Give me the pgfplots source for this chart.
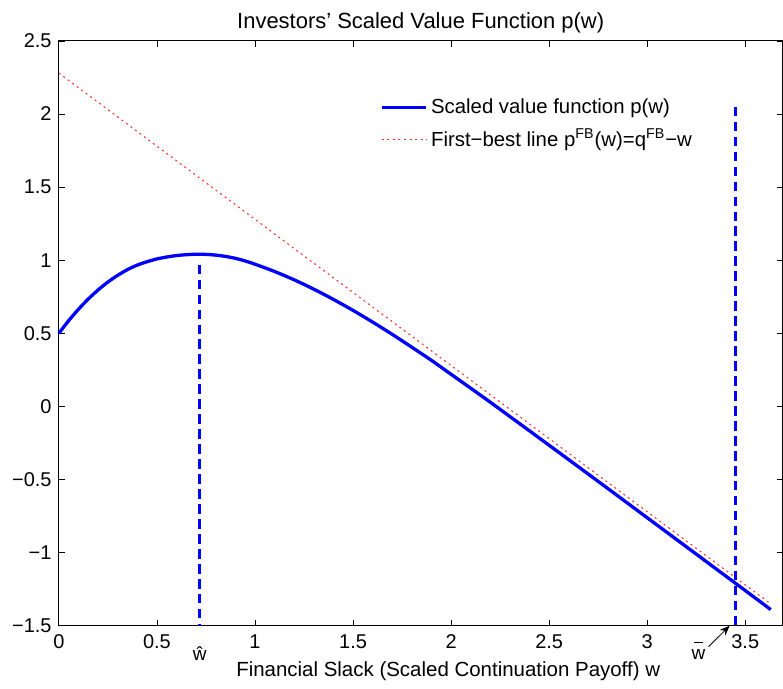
\documentclass[border=0pt]{standalone}
\usepackage{fontspec}
\setmainfont{Liberation Sans}
\usepackage{pgfplots}
\pgfplotsset{compat=1.18}
\usetikzlibrary{arrows.meta}
\begin{document}
\begin{tikzpicture}
\begin{axis}[
  scale only axis, width=362.5pt, height=293pt,
  xmin=0, xmax=3.69, ymin=-1.5, ymax=2.5,
  xtick={0,0.5,1,1.5,2,2.5,3,3.5},
  ytick={-1.5,-1,-0.5,0,0.5,1,1.5,2,2.5},
  xticklabels={0,0.5,1,1.5,2,2.5,3,3.5},
  yticklabels={−1.5,−1,−0.5,0,0.5,1,1.5,2,2.5},
  tick align=inside, major tick length=3pt,
  tick style={black, line width=0.4pt},
  axis line style={black, line width=0.5pt},
  ticklabel style={font=\fontsize{10}{11}\selectfont},
  xticklabel style={anchor=center, yshift=-8pt},
  yticklabel style={inner xsep=3.5pt},
  title={Investors’ Scaled Value Function p(w)},
  every axis title/.style={font=\fontsize{11}{13}\selectfont, at={(0.5,1)}, anchor=center, yshift=9.3pt, inner sep=0pt},
  xlabel={Financial Slack (Scaled Continuation Payoff) w},
  every axis x label/.style={font=\fontsize{10.25}{12}\selectfont, at={(0.538,0)}, anchor=center, yshift=-22.7pt, inner sep=0pt},
  clip=false,
  legend style={draw=none, fill=none, at={(axis cs:1.635,2.13)}, anchor=north west,
    font=\fontsize{10.2}{12}\selectfont, row sep=3.5pt, inner sep=0pt,
    nodes={inner sep=1.5pt}},
  legend cell align=left,
  legend image code/.code={\draw[#1] (0pt,0pt) -- (22.5pt,0pt);},
]
\path ([xshift=-29.5pt, yshift=-31.5pt]rel axis cs:0,0) ([yshift=20.5pt]rel axis cs:1,1);
\addplot[blue, line width=1.65pt, smooth] coordinates {
(0,0.500) (0.05,0.587) (0.1,0.665) (0.15,0.735) (0.2,0.797) (0.25,0.851)
(0.3,0.897) (0.35,0.936) (0.4,0.967) (0.45,0.990) (0.5,1.009) (0.55,1.022)
(0.6,1.032) (0.65,1.038) (0.7,1.041) (0.75,1.040) (0.8,1.035) (0.85,1.026)
(0.9,1.013) (0.95,0.995) (1.0,0.973) (1.1,0.923) (1.2,0.866) (1.3,0.802)
(1.4,0.732) (1.5,0.657) (1.6,0.577) (1.7,0.493) (1.8,0.405) (1.9,0.315)
(2.0,0.220) (2.1,0.125) (2.2,0.029) (2.3,-0.069) (2.4,-0.167) (2.6,-0.364)
(2.8,-0.562) (3.0,-0.761) (3.2,-0.960) (3.45,-1.209) (3.63,-1.389)
};
\addlegendentry{Scaled value function p(w)}
\addplot[red!85, line width=0.5pt, dash pattern=on 1pt off 1.8pt] coordinates {
(0,2.28) (3.63,-1.35)
};
\addlegendentry{First−best line p\textsuperscript{FB}(w)=q\textsuperscript{FB}−w}
\addplot[blue, line width=1.5pt, dash pattern=on 4.75pt off 2.75pt, forget plot] coordinates {(0.718,0.97) (0.718,-1.5)};
\addplot[blue, line width=1.5pt, dash pattern=on 4.75pt off 2.75pt, forget plot] coordinates {(3.45,2.05) (3.45,-1.5)};
\node[font=\fontsize{9.5}{10}\selectfont, anchor=base, inner sep=0pt] at (axis cs:0.718,-1.739) {ŵ};
\node[font=\fontsize{9.5}{10}\selectfont, anchor=base, inner sep=0pt] (wbar) at (axis cs:3.262,-1.732) {w};
\draw[line width=0.45pt] ([xshift=1.2pt, yshift=3.6pt]wbar.north west) -- ([xshift=-1.2pt, yshift=3.6pt]wbar.north east);
\draw[-{Stealth[length=5pt,width=4pt]}, line width=0.4pt] (axis cs:3.313,-1.643) -- (axis cs:3.42,-1.5);
\end{axis}
\end{tikzpicture}
\end{document}
